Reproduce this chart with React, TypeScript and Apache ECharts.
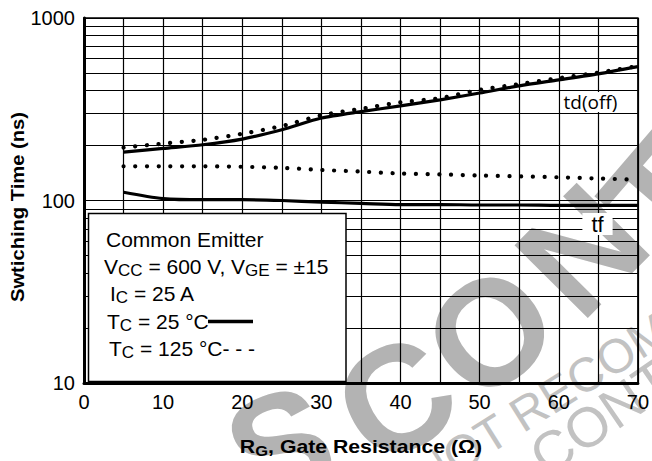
import React, { useEffect, useRef } from 'react';
import * as echarts from 'echarts';

// Gate resistance (ohm)
const rg = [5, 10, 15, 20, 25, 30, 35, 40, 45, 50, 55, 60, 65, 70];
// Switching times (ns)
const tdOff25 = [184, 193, 202, 217, 244, 283, 307, 330, 356, 388, 425, 458, 494, 541];
const tdOff125 = [195, 205, 215, 232, 256, 293, 318, 345, 364, 404, 434, 468, 502, 546];
const tf25 = [111, 102.5, 101, 101, 100, 98, 96.5, 95, 95, 94.5, 94.5, 94, 94, 94];
const tf125 = [154, 154, 154, 153, 151, 147, 144, 140.5, 139, 137, 135.5, 134, 132, 130];

// Minor horizontal grid values of the log axis
const minorGrid = [20, 30, 40, 50, 60, 70, 80, 90, 200, 300, 400, 500, 600, 700, 800, 900];

const FONT = '"Liberation Sans", Arial, Helvetica, sans-serif';

// watermark letters placed along an arc: [char, x, y, rotation]
const WM: [string, number, number, number][] = [
  ['S', 280, 446, 0.35],
  ['C', 396, 399, 0.52],
  ['O', 490, 332, 0.7],
  ['N', 582, 250, 0.79],
  ['T', 662, 196, 0.86],
];

export default function App() {
  const ref = useRef<HTMLDivElement>(null);

  useEffect(() => {
    const chart = echarts.init(ref.current as HTMLDivElement, null, { renderer: 'svg' });
    const pairs = (ys: number[]) => rg.map((x, i) => [x, ys[i]]);
    const sub = (size: number, pad: number, weight = 'normal') => ({
      fontSize: size,
      fontFamily: FONT,
      fontWeight: weight,
      fill: '#000',
      padding: [pad, 0, 0, 0],
    });
    const legendText = (text: string, x: number, y: number) => ({
      type: 'text',
      x,
      y,
      z: 51,
      style: {
        text,
        fontSize: 21,
        fontFamily: FONT,
        fill: '#000',
        align: 'left',
        verticalAlign: 'middle',
        rich: { s: sub(17, 8) },
      },
    });

    const solid = { color: '#000', width: 3.2, type: 'solid' };
    const dotted = { color: '#000', width: 4.2, type: [0.1, 11.6], cap: 'round' };

    const watermark = WM.map(([ch, x, y, r]) => ({
      type: 'text',
      x,
      y,
      rotation: r,
      z: -10,
      silent: true,
      style: {
        text: ch,
        fontSize: 150,
        fontWeight: 'bold',
        fontFamily: FONT,
        fill: '#b3b3b3',
        align: 'center',
        verticalAlign: 'middle',
      },
    }));

    const option: any = {
      animation: false,
      backgroundColor: '#fff',
      grid: {
        left: 84,
        right: 5,
        top: 18,
        bottom: 78,
        show: true,
        borderColor: '#000',
        borderWidth: 1.5,
      },
      xAxis: {
        type: 'value',
        min: 0,
        max: 70,
        interval: 5,
        axisLine: { show: true, onZero: false, lineStyle: { color: '#000', width: 3 } },
        axisTick: { show: false },
        splitLine: { show: true, lineStyle: { color: '#000', width: 1.2 } },
        axisLabel: {
          fontSize: 20,
          color: '#000',
          fontFamily: FONT,
          margin: 9,
          showMinLabel: true,
          showMaxLabel: true,
          formatter: (v: number) => (v % 10 === 0 ? String(v) : ''),
        },
      },
      yAxis: {
        type: 'log',
        logBase: 10,
        min: 10,
        max: 1000,
        axisLine: { show: true, lineStyle: { color: '#000', width: 3 } },
        axisTick: { show: false },
        splitLine: { show: true, lineStyle: { color: '#000', width: 1.2 } },
        axisLabel: {
          fontSize: 20,
          color: '#000',
          fontFamily: FONT,
          margin: 9,
          formatter: (v: number) => String(Math.round(v)),
        },
      },
      series: [
        {
          name: 'grid',
          type: 'line',
          data: [],
          z: 1,
          markLine: {
            silent: true,
            symbol: ['none', 'none'],
            label: { show: false },
            lineStyle: { color: '#000', width: 1.2, type: 'solid' },
            data: minorGrid.map((v) => ({ yAxis: v })),
          },
        },
        { name: 'td(off) 25', type: 'line', data: pairs(tdOff25), symbol: 'none', smooth: 0.25, lineStyle: solid, z: 3 },
        { name: 'tf 25', type: 'line', data: pairs(tf25), symbol: 'none', smooth: 0.3, lineStyle: solid, z: 3 },
        { name: 'td(off) 125', type: 'line', data: pairs(tdOff125), symbol: 'none', smooth: 0.25, lineStyle: dotted, z: 4 },
        { name: 'tf 125', type: 'line', data: pairs(tf125), symbol: 'none', smooth: 0.3, lineStyle: dotted, z: 4 },
      ],
      graphic: [
        ...watermark,
        {
          type: 'text',
          x: 418,
          y: 480,
          rotation: 0.56,
          z: -10,
          silent: true,
          style: {
            text: 'NOT RECOMMENDED',
            fontSize: 48,
            fontFamily: FONT,
            fill: '#c2c2c2',
            align: 'left',
            verticalAlign: 'middle',
          },
        },
        {
          type: 'text',
          x: 536,
          y: 462,
          rotation: 0.6,
          z: -10,
          silent: true,
          style: {
            text: 'CONTACT',
            fontSize: 56,
            fontFamily: FONT,
            fill: '#c2c2c2',
            align: 'left',
            verticalAlign: 'middle',
          },
        },
        // legend box
        {
          type: 'rect',
          z: 50,
          shape: { x: 88.5, y: 213.5, width: 257.5, height: 168 },
          style: { fill: '#fff', stroke: '#000', lineWidth: 1.5 },
        },
        legendText('Common Emitter', 106, 239),
        legendText('V{s|CC} = 600 V, V{s|GE} = ±15', 104, 266.5),
        legendText('I{s|C} = 25 A', 110, 293),
        legendText('T{s|C} = 25 °C', 107, 321.5),
        legendText('T{s|C} = 125 °C- - -', 109, 348),
        {
          type: 'line',
          z: 51,
          shape: { x1: 208, y1: 321.5, x2: 253, y2: 321.5 },
          style: { stroke: '#000', lineWidth: 3.5 },
        },
        // curve labels
        {
          type: 'text',
          x: 590.5,
          y: 102,
          z: 60,
          style: {
            text: 'td(off)',
            fontSize: 19,
            fontFamily: '"Open Sans", sans-serif',
            fill: '#000',
            align: 'center',
            verticalAlign: 'middle',
            lineHeight: 20,
            backgroundColor: '#fff',
            padding: [0, 3],
          },
        },
        {
          type: 'text',
          x: 597.5,
          y: 224,
          z: 60,
          style: {
            text: 'tf',
            fontSize: 22,
            fontFamily: FONT,
            fill: '#000',
            align: 'center',
            verticalAlign: 'middle',
            lineHeight: 22,
            backgroundColor: '#fff',
            padding: [0, 9],
          },
        },
        // axis titles
        {
          type: 'text',
          x: 361,
          y: 447,
          scaleX: 1.18,
          z: 60,
          style: {
            text: 'R{s|G}, Gate Resistance (Ω)',
            fontSize: 18,
            fontWeight: 'bold',
            fontFamily: FONT,
            fill: '#000',
            align: 'center',
            verticalAlign: 'middle',
            rich: { s: sub(14, 7, 'bold') },
          },
        },
        {
          type: 'text',
          x: 18,
          y: 207,
          rotation: Math.PI / 2,
          scaleX: 1.12,
          z: 60,
          style: {
            text: 'Swtiching Time (ns)',
            fontSize: 18,
            fontWeight: 'bold',
            fontFamily: FONT,
            fill: '#000',
            align: 'center',
            verticalAlign: 'middle',
          },
        },
      ],
    };

    chart.setOption(option);
    return () => chart.dispose();
  }, []);

  return (
    <div
      ref={ref}
      style={{ position: 'fixed', left: 0, top: 0, width: 652, height: 461 }}
    />
  );
}
